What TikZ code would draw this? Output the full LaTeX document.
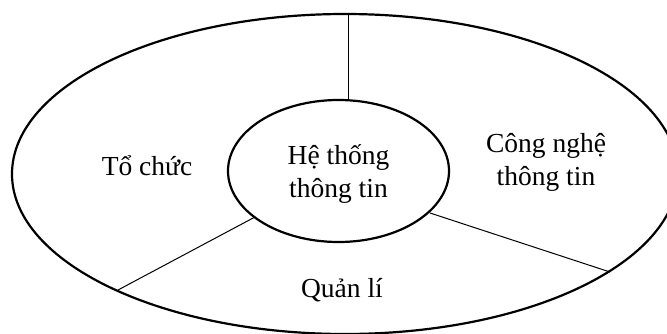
\documentclass[tikz,border=0pt]{standalone}
\usepackage{fontspec}
\setmainfont{Liberation Serif}
\usetikzlibrary{shapes.geometric}
\begin{document}
\begin{tikzpicture}[x=1pt,y=1pt,
  ring/.style={draw,ellipse,line width=2.2pt,inner sep=0pt},
  divider/.style={draw,line width=1pt},
  label/.style={font=\fontsize{27.5}{33}\selectfont,align=center,inner sep=0pt}]
\useasboundingbox (0,0) rectangle (667,333);
\clip (0,0) rectangle (667,333);
\node[ring,minimum width=666pt,minimum height=320pt] (outer) at (345,159) {};
\node[ring,minimum width=221pt,minimum height=142pt] (inner) at (338.5,162) {};
\coordinate (ot) at (348,319);
\coordinate (it) at (348,233);
\coordinate (il) at (255,116);
\coordinate (ol) at (118,43);
\coordinate (ir) at (430,120);
\coordinate (or) at (610,61);
\draw[divider] (ot) -- (it);
\draw[divider] (il) -- (ol);
\draw[divider] (ir) -- (or);
\node[label,anchor=base] (org) at (147,158) {Tổ chức};
\node[label,anchor=base] (his) at (338.5,136) {Hệ thống\\thông tin};
\node[label,anchor=base] (cntt) at (546,148) {Công nghệ\\thông tin};
\node[label,anchor=base] (ql) at (342,36) {Quản lí};
\end{tikzpicture}
\end{document}
